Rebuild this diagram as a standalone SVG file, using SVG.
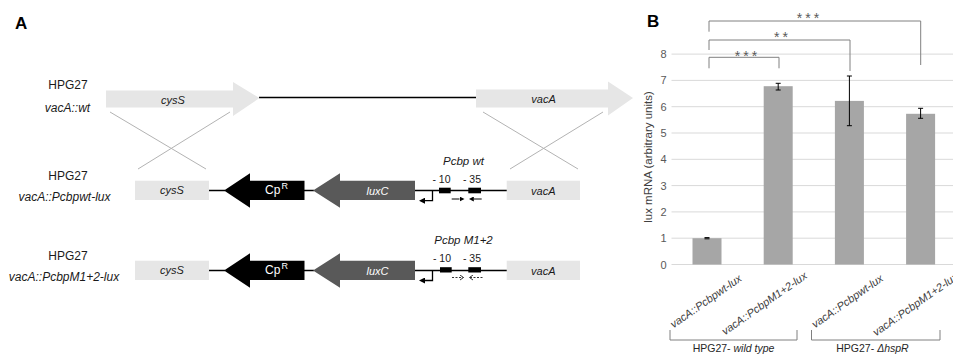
<svg xmlns="http://www.w3.org/2000/svg" width="953" height="360" viewBox="0 0 953 360">
  <style>
    text { font-family: "Liberation Sans", Arial, sans-serif; fill: #1a1a1a; }
    .it { font-style: italic; }
    .panel { font-size: 17px; font-weight: bold; fill: #000; }
    .strain { font-size: 12px; text-anchor: middle; }
    .gene { font-size: 11px; font-style: italic; text-anchor: middle; }
    .inv { fill: #fff; }
    .light { fill: #e6e6e6; }
    .dark { fill: #595959; }
    .black { fill: #000; }
    .dna { stroke: #000; stroke-width: 1.5; fill: none; }
    .cross { stroke: #b3b3b3; stroke-width: 1; fill: none; }
    .ptxt { font-size: 10.5px; text-anchor: middle; }
    .pname { font-size: 11.5px; font-style: italic; text-anchor: middle; }
    .tss { stroke: #000; stroke-width: 1.3; fill: none; }
    .dash { stroke: #333; stroke-width: 1; fill: none; stroke-dasharray: 2 1.5; }
    .grid { stroke: #d9d9d9; stroke-width: 1; }
    .bar { fill: #a6a6a6; }
    .err { stroke: #000; stroke-width: 1; fill: none; }
    .sig { stroke: #808080; stroke-width: 1; fill: none; }
    .tick { font-size: 11px; text-anchor: end; fill: #595959; }
    .star { font-size: 14px; text-anchor: middle; fill: #595959; letter-spacing: 3px; }
    .cat { font-size: 11px; font-style: italic; fill: #404040; }
    .grp { font-size: 10.5px; text-anchor: middle; fill: #262626; }
    .axis { font-size: 11.5px; text-anchor: middle; fill: #404040; }
  </style>
  <defs>
    <marker id="head" viewBox="0 0 6 6" refX="1" refY="3" markerWidth="6" markerHeight="6" markerUnits="userSpaceOnUse" orient="auto">
      <path d="M0,0 L6,3 L0,6 z" fill="#000"/>
    </marker>
    <marker id="small" viewBox="0 0 5 5" refX="0" refY="2.5" markerWidth="5" markerHeight="5" markerUnits="userSpaceOnUse" orient="auto">
      <path d="M0,0 L5,2.5 L0,5 z" fill="#000"/>
    </marker>
    <marker id="open" viewBox="0 0 5 6" refX="4" refY="3" markerWidth="5" markerHeight="6" markerUnits="userSpaceOnUse" orient="auto">
      <path d="M0.5,0.5 L4,3 L0.5,5.5" fill="none" stroke="#333" stroke-width="1"/>
    </marker>
  </defs>

  <!-- ===== Panel A : genomic constructs ===== -->
  <text class="panel" x="15" y="28.5">A</text>

  <!-- strain labels -->
  <g id="label-wt">
    <text class="strain" x="68" y="89.3">HPG27</text>
    <text class="strain it" x="67.5" y="111.5">vacA::wt</text>
  </g>
  <g id="label-pwt">
    <text class="strain" x="68" y="180">HPG27</text>
    <text class="strain it" x="64.5" y="201">vacA::Pcbpwt-lux</text>
  </g>
  <g id="label-pm">
    <text class="strain" x="68" y="260">HPG27</text>
    <text class="strain it" x="64" y="281">vacA::PcbpM1+2-lux</text>
  </g>

  <!-- DNA backbone and recombination crossovers -->
  <g id="connectors">
    <line class="dna" x1="259" y1="97.5" x2="477" y2="97.5"/>
    <line class="dna" x1="209" y1="190.5" x2="225" y2="190.5"/>
    <line class="dna" x1="304" y1="190.5" x2="314" y2="190.5"/>
    <line class="dna" x1="415" y1="190.5" x2="507" y2="190.5"/>
    <line class="dna" x1="209" y1="270.5" x2="225" y2="270.5"/>
    <line class="dna" x1="304" y1="270.5" x2="314" y2="270.5"/>
    <line class="dna" x1="415" y1="270.5" x2="507" y2="270.5"/>
    <line class="cross" x1="110" y1="112" x2="206" y2="169"/>
    <line class="cross" x1="230" y1="112" x2="138" y2="169"/>
    <line class="cross" x1="483" y1="112" x2="578" y2="169"/>
    <line class="cross" x1="603" y1="112" x2="510" y2="169"/>
  </g>

  <!-- wild-type locus -->
  <g id="cysS-wt">
    <polygon class="light" points="106,90.5 233,90.5 233,82 259.5,98 233,116 233,107.5 106,107.5"/>
    <text class="gene" x="173" y="103.5">cysS</text>
  </g>
  <g id="vacA-wt">
    <polygon class="light" points="476,89.5 608,89.5 608,81.5 633,98 608,115.5 608,107.5 476,107.5"/>
    <text class="gene" x="543.5" y="103">vacA</text>
  </g>

  <!-- Pcbp wt construct -->
  <g id="cysS-pwt">
    <rect class="light" x="135" y="180.7" width="74" height="19.3"/>
    <text class="gene" x="172" y="194">cysS</text>
  </g>
  <g id="cpR-pwt">
    <polygon class="black" points="224,190.5 250,173.3 250,180.7 304.5,180.7 304.5,200 250,200 250,207.7"/>
    <text class="inv" x="276.5" y="194" font-size="12" text-anchor="middle">Cp<tspan font-size="9" dx="1" dy="-5">R</tspan></text>
  </g>
  <g id="luxC-pwt">
    <polygon class="dark" points="313,190.5 340,173.3 340,180.7 415,180.7 415,200 340,200 340,207.7"/>
    <text class="gene inv" x="377.5" y="194.5" font-size="12">luxC</text>
  </g>
  <g id="promoter-pwt">
    <text class="pname" x="463.5" y="165">Pcbp wt</text>
    <text class="ptxt" x="441.5" y="182.5">- 10</text>
    <text class="ptxt" x="472" y="182.5">- 35</text>
    <rect class="black" x="439" y="187.7" width="11.7" height="5.6"/>
    <rect class="black" x="468.3" y="187.7" width="12.7" height="5.6"/>
    <path class="tss" d="M432.5,190.5 V200.7 H424" marker-end="url(#head)"/>
    <line class="err" x1="451.7" y1="199" x2="459.5" y2="199" marker-end="url(#small)"/>
    <line class="err" x1="481.7" y1="199" x2="473.8" y2="199" marker-end="url(#small)"/>
  </g>
  <g id="vacA-pwt">
    <rect class="light" x="506.7" y="180.7" width="73.3" height="19.3"/>
    <text class="gene" x="543.3" y="194.5">vacA</text>
  </g>

  <!-- Pcbp M1+2 construct -->
  <g id="cysS-pm">
    <rect class="light" x="135" y="260.7" width="74" height="19.3"/>
    <text class="gene" x="172" y="274">cysS</text>
  </g>
  <g id="cpR-pm">
    <polygon class="black" points="224,270.5 250,253.3 250,260.7 304.5,260.7 304.5,280 250,280 250,287.7"/>
    <text class="inv" x="276.5" y="274" font-size="12" text-anchor="middle">Cp<tspan font-size="9" dx="1" dy="-5">R</tspan></text>
  </g>
  <g id="luxC-pm">
    <polygon class="dark" points="313,270.5 340,253.3 340,260.7 415,260.7 415,280 340,280 340,287.7"/>
    <text class="gene inv" x="377.5" y="274.5" font-size="12">luxC</text>
  </g>
  <g id="promoter-pm">
    <text class="pname" x="463.5" y="244">Pcbp M1+2</text>
    <text class="ptxt" x="442" y="262">- 10</text>
    <text class="ptxt" x="472" y="262">- 35</text>
    <rect class="black" x="440" y="267.2" width="11.7" height="5.3"/>
    <rect class="black" x="468.3" y="267.2" width="12.7" height="5.3"/>
    <path class="tss" d="M432.5,270.5 V280.5 H424" marker-end="url(#head)"/>
    <line class="dash" x1="452" y1="277.5" x2="463.5" y2="277.5" marker-end="url(#open)"/>
    <line class="dash" x1="482.5" y1="277.5" x2="469.5" y2="277.5" marker-end="url(#open)"/>
  </g>
  <g id="vacA-pm">
    <rect class="light" x="506.7" y="260.7" width="73.3" height="19.3"/>
    <text class="gene" x="543.3" y="274.5">vacA</text>
  </g>

  <!-- ===== Panel B : lux mRNA bar chart ===== -->
  <text class="panel" x="647" y="27">B</text>

  <g id="chart-grid">
    <line class="grid" x1="671.5" y1="264.5" x2="953" y2="264.5"/>
    <line class="grid" x1="671.5" y1="238.2" x2="953" y2="238.2"/>
    <line class="grid" x1="671.5" y1="211.9" x2="953" y2="211.9"/>
    <line class="grid" x1="671.5" y1="185.6" x2="953" y2="185.6"/>
    <line class="grid" x1="671.5" y1="159.3" x2="953" y2="159.3"/>
    <line class="grid" x1="671.5" y1="133" x2="953" y2="133"/>
    <line class="grid" x1="671.5" y1="106.7" x2="953" y2="106.7"/>
    <line class="grid" x1="671.5" y1="80.4" x2="953" y2="80.4"/>
    <line class="grid" x1="671.5" y1="54.1" x2="953" y2="54.1"/>
    <text class="tick" x="666.5" y="268.5">0</text>
    <text class="tick" x="666.5" y="242.2">1</text>
    <text class="tick" x="666.5" y="215.9">2</text>
    <text class="tick" x="666.5" y="189.6">3</text>
    <text class="tick" x="666.5" y="163.3">4</text>
    <text class="tick" x="666.5" y="137">5</text>
    <text class="tick" x="666.5" y="110.7">6</text>
    <text class="tick" x="666.5" y="84.4">7</text>
    <text class="tick" x="666.5" y="58.1">8</text>
    <text class="axis" transform="translate(652,157) rotate(-90)">lux mRNA (arbitrary units)</text>
  </g>

  <g id="bar-1">
    <rect class="bar" x="692.5" y="238.2" width="29" height="26.3"/>
    <path class="err" d="M704.5,237.6 H709.5 M704.5,238.8 H709.5"/>
  </g>
  <g id="bar-2">
    <rect class="bar" x="763.7" y="86.2" width="29" height="178.3"/>
    <path class="err" d="M778.2,83.3 V90 M775.7,83.3 H780.7 M775.7,90 H780.7"/>
  </g>
  <g id="bar-3">
    <rect class="bar" x="834.9" y="100.9" width="29" height="163.6"/>
    <path class="err" d="M849.4,76 V125.7 M846.9,76 H851.9 M846.9,125.7 H851.9"/>
  </g>
  <g id="bar-4">
    <rect class="bar" x="906.1" y="113.8" width="29" height="150.7"/>
    <path class="err" d="M920.6,108.3 V118.3 M918.1,108.3 H923.1 M918.1,118.3 H923.1"/>
  </g>

  <!-- significance brackets -->
  <g id="significance">
    <path class="sig" d="M709,68.3 V57.3 H779 V68.3"/>
    <text class="star" x="747.5" y="60.5">***</text>
    <path class="sig" d="M709,50 V40 H850 V71"/>
    <text class="star" x="782.5" y="42.4">**</text>
    <path class="sig" d="M709,31.7 V21 H920.7 V65"/>
    <text class="star" x="809.5" y="23.4">***</text>
  </g>

  <!-- category labels -->
  <g id="categories">
    <text class="cat" transform="translate(673.5,328.5) rotate(-35)">vacA::Pcbpwt-lux</text>
    <text class="cat" transform="translate(725,335.5) rotate(-35)">vacA::PcbpM1+2-lux</text>
    <text class="cat" transform="translate(815,328.5) rotate(-35)">vacA::Pcbpwt-lux</text>
    <text class="cat" transform="translate(876,336.5) rotate(-35)">vacA::PcbpM1+2-lux</text>
  </g>

  <g id="group-wt">
    <path class="sig" d="M670,330 V340 H797 V330"/>
    <text class="grp" x="733.5" y="351.5">HPG27- <tspan class="it">wild type</tspan></text>
  </g>
  <g id="group-hspR">
    <path class="sig" d="M811.5,330 V340 H940 V330"/>
    <text class="grp" x="872.5" y="351.5">HPG27- <tspan class="it">ΔhspR</tspan></text>
  </g>
</svg>
